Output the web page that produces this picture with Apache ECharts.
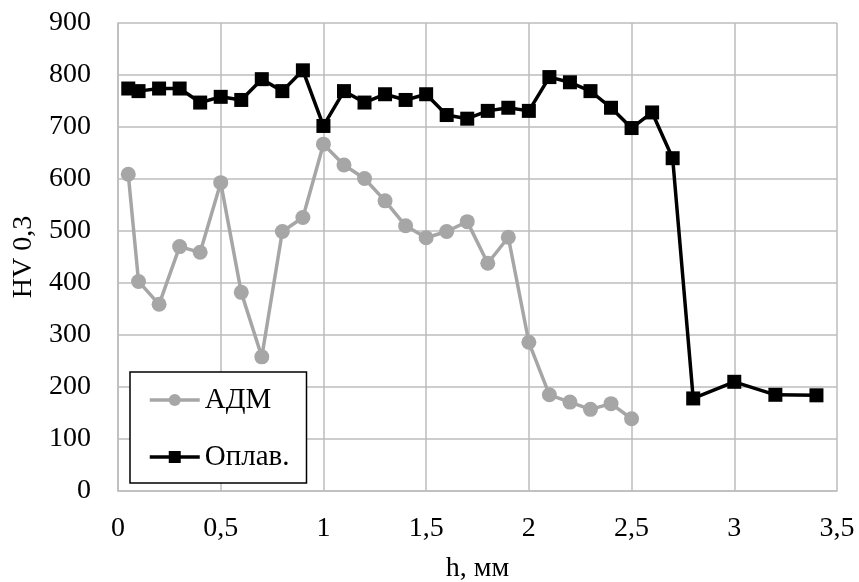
<!DOCTYPE html>
<html>
<head>
<meta charset="utf-8">
<script src="https://cdn.jsdelivr.net/npm/echarts@6/dist/echarts.min.js"></script>
<style>
  html, body { margin: 0; padding: 0; background: #fff; }
  #main { width: 859px; height: 582px; }
</style>
</head>
<body>
<div id="main"></div>
<script>
// толщина h, мм и твёрдость HV 0,3
var admH  = [0.05, 0.1, 0.2, 0.3, 0.4, 0.5, 0.6, 0.7, 0.8, 0.9, 1.0, 1.1, 1.2, 1.3, 1.4, 1.5, 1.6, 1.7, 1.8, 1.9, 2.0, 2.1, 2.2, 2.3, 2.4, 2.5];
var admHV = [609, 403, 359, 470, 459, 593, 382, 258, 499, 526, 667, 627, 601, 558, 510, 487, 499, 518, 438, 488, 286, 185, 171, 157, 168, 139];

var meltH  = [0.05, 0.1, 0.2, 0.3, 0.4, 0.5, 0.6, 0.7, 0.8, 0.9, 1.0, 1.1, 1.2, 1.3, 1.4, 1.5, 1.6, 1.7, 1.8, 1.9, 2.0, 2.1, 2.2, 2.3, 2.4, 2.5, 2.6, 2.7, 2.8, 3.0, 3.2, 3.4];
var meltHV = [774, 769, 774, 774, 747, 758, 752, 792, 769, 809, 702, 769, 747, 763, 752, 763, 723, 716, 731, 737, 731, 796, 786, 769, 737, 698, 728, 640, 178, 210, 185, 184];

function pairs(xs, ys) {
  return xs.map(function (x, i) { return [x, ys[i]]; });
}

var font = 'Liberation Serif, Times New Roman, serif';
var gridColor = '#bdbdbd';

var myChart = echarts.init(document.getElementById('main'));

myChart.setOption({
  animation: false,
  textStyle: { fontFamily: font },
  grid: { left: 118, right: 22, top: 23, bottom: 91, outerBoundsMode: 'none' },
  legend: {
    orient: 'vertical',
    left: 130,
    top: 372,
    padding: [13, 17, 11, 18],
    itemWidth: 50,
    itemHeight: 15,
    itemGap: 27,
    borderColor: '#000',
    borderWidth: 1.5,
    backgroundColor: '#fff',
    lineStyle: { width: 3.5 },
    textStyle: { fontFamily: font, fontSize: 29, color: '#000', lineHeight: 30 },
    data: ['АДМ', 'Оплав.']
  },
  xAxis: {
    type: 'value',
    min: 0,
    max: 3.5,
    interval: 0.5,
    name: 'h, мм',
    nameLocation: 'middle',
    nameGap: 64,
    nameTextStyle: { fontFamily: font, fontSize: 28, color: '#000' },
    axisLine: { lineStyle: { color: gridColor, width: 1.5 } },
    axisTick: { show: false },
    splitLine: { show: true, lineStyle: { color: gridColor, width: 1.5 } },
    axisLabel: {
      fontFamily: font, fontSize: 28, color: '#000', margin: 24,
      formatter: function (v) { return String(v).replace('.', ','); }
    }
  },
  yAxis: {
    type: 'value',
    min: 0,
    max: 900,
    interval: 100,
    name: 'HV 0,3',
    nameLocation: 'middle',
    nameGap: 77,
    nameTextStyle: { fontFamily: font, fontSize: 28, color: '#000' },
    axisLine: { show: true, lineStyle: { color: gridColor, width: 1.5 } },
    axisTick: { show: false },
    splitLine: { show: true, lineStyle: { color: gridColor, width: 1.5 } },
    axisLabel: { fontFamily: font, fontSize: 28, color: '#000', margin: 27 }
  },
  series: [
    {
      name: 'АДМ',
      type: 'line',
      data: pairs(admH, admHV),
      symbol: 'circle',
      symbolSize: 15,
      lineStyle: { color: '#a6a6a6', width: 3.5 },
      itemStyle: { color: '#a6a6a6' },
      z: 2
    },
    {
      name: 'Оплав.',
      type: 'line',
      data: pairs(meltH, meltHV),
      symbol: 'rect',
      symbolSize: 14,
      lineStyle: { color: '#000', width: 3.5 },
      itemStyle: { color: '#000' },
      z: 3
    }
  ]
});
</script>
</body>
</html>
